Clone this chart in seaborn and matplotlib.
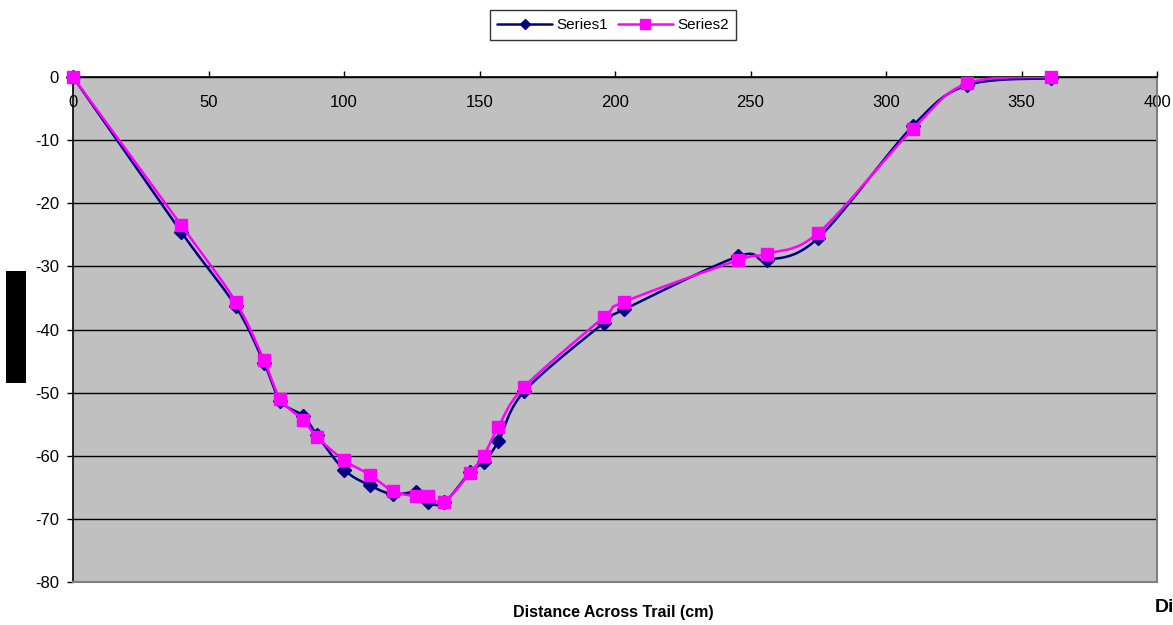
import numpy as np
import pandas as pd
import seaborn as sns
import matplotlib
matplotlib.use("Agg")
import matplotlib.pyplot as plt
from matplotlib.lines import Line2D
from matplotlib.patches import Rectangle

# Trail cross-section profile: distance across trail (cm) and depth for two surveys
distance = [0, 40, 60, 70.5, 76.5, 85, 90, 100, 109.5, 118, 126.5, 131, 137,
            146.5, 151.5, 157, 166.5, 196, 203.5, 245.5, 256, 275, 310, 330, 361]
series1 = [0, -24.6, -36.3, -45.3, -51.3, -53.7, -56.7, -62.2, -64.7, -66.1,
           -65.8, -67.4, -67.4, -62.6, -61.0, -57.7, -49.8, -38.9, -36.8,
           -28.4, -29.0, -25.5, -7.7, -1.3, -0.2]
series2 = [0, -23.5, -35.6, -44.9, -51.0, -54.4, -57.0, -60.7, -63.0, -65.6,
           -66.4, -66.4, -67.3, -62.7, -60.0, -55.4, -49.1, -38.0, -35.6,
           -29.0, -28.0, -24.7, -8.2, -1.0, 0]
series_names = ["Series1", "Series2"]
x_ticks = [0, 50, 100, 150, 200, 250, 300, 350, 400]
y_ticks = [0, -10, -20, -30, -40, -50, -60, -70, -80]
x_label = "Distance Across Trail (cm)"


def smooth_curve(xs, ys, steps=24):
    """Cubic Bezier path through the points (spreadsheet-style smoothed line)."""
    p = np.column_stack([xs, ys]).astype(float)
    n = len(p)
    out = [p[0]]
    t = np.linspace(0, 1, steps)[1:, None]
    for i in range(n - 1):
        p0 = p[i - 1] if i > 0 else p[i]
        p1, p2 = p[i], p[i + 1]
        p3 = p[i + 2] if i + 2 < n else p[i + 1]
        c1 = p1 + (p2 - p0) / 6.0
        c2 = p2 - (p3 - p1) / 6.0
        seg = ((1 - t) ** 3) * p1 + 3 * ((1 - t) ** 2) * t * c1 + 3 * (1 - t) * t ** 2 * c2 + t ** 3 * p2
        out.extend(seg)
    out = np.array(out)
    return out[:, 0], out[:, 1]


sns.set_theme(style="white")
plt.rcParams["font.family"] = ["Liberation Sans", "DejaVu Sans"]
plt.rcParams["text.color"] = "black"
plt.rcParams["xtick.color"] = "black"
plt.rcParams["ytick.color"] = "black"

fig = plt.figure(figsize=(11.73, 6.25), dpi=100)
ax = fig.add_axes([73 / 1173, 1 - 582 / 625, (1157 - 73) / 1173, (582 - 77) / 625])
ax.set_facecolor("#C0C0C0")

colors = ["#000080", "#FF00FF"]
markers = ["D", "s"]
msizes = [7, 9]
for name, ys, col, mk, ms, z in zip(series_names, [series1, series2], colors, markers, msizes, [3, 4]):
    sx, sy = smooth_curve(distance, ys)
    sns.lineplot(x=sx, y=sy, sort=False, estimator=None, color=col, linewidth=1.8,
                 ax=ax, zorder=z, legend=False)
    pts = pd.DataFrame({"x": distance, "y": ys})
    ax.plot(pts["x"], pts["y"], linestyle="none", marker=mk, markersize=ms,
            color=col, markeredgecolor=col, zorder=z + 0.5, clip_on=False)

ax.set_xlim(0, 400)
ax.set_ylim(-80, 0)
ax.set_xticks(x_ticks)
ax.set_yticks(y_ticks)
ax.set_yticklabels([str(v) for v in y_ticks])
ax.grid(axis="y", color="black", linewidth=1.0)
ax.grid(axis="x", visible=False)
ax.set_axisbelow(True)

# x axis sits along y = 0 at the top, labels drawn just beneath it
ax.xaxis.tick_top()
ax.tick_params(axis="x", which="major", direction="out", length=4, width=1,
               color="black", labelcolor="black", pad=-17, labelsize=12,
               top=True, bottom=False)
ax.tick_params(axis="y", which="major", direction="out", length=4, width=1,
               color="black", labelcolor="black", pad=6, labelsize=12, left=True)
for lbl in ax.get_xticklabels():
    lbl.set_verticalalignment("top")

for side in ["left", "top"]:
    ax.spines[side].set_color("black")
    ax.spines[side].set_linewidth(1.2)
for side in ["right", "bottom"]:
    ax.spines[side].set_color("#808080")
    ax.spines[side].set_linewidth(1.5)
    ax.spines[side].set_visible(True)

ax.set_xlabel("")
ax.set_ylabel("")

fig.text(613 / 1173, 1 - 612 / 625, x_label, ha="center", va="center",
         fontsize=11.5, fontweight="bold", color="black")
fig.text(1155 / 1173, 1 - 608 / 625, "Di", ha="left", va="center",
         fontsize=14, fontweight="bold", color="black")

# black block beside the y axis
fig.patches.append(Rectangle((6 / 1173, 1 - 383 / 625), 20 / 1173, 112 / 625,
                             transform=fig.transFigure, facecolor="black",
                             edgecolor="none"))

handles = [Line2D([], [], color=c, marker=m, markersize=s * 0.8, linewidth=1.8)
           for c, m, s in zip(colors, markers, msizes)]
leg = fig.legend(handles, series_names, loc="center", bbox_to_anchor=(613 / 1173, 1 - 25 / 625),
                 ncol=2, frameon=True, fancybox=False, fontsize=11, handlelength=3.6,
                 columnspacing=0.6, handletextpad=0.3, borderpad=0.5, borderaxespad=0)
leg.get_frame().set_edgecolor("black")
leg.get_frame().set_linewidth(1.0)

fig.savefig("out.png", dpi=100)
